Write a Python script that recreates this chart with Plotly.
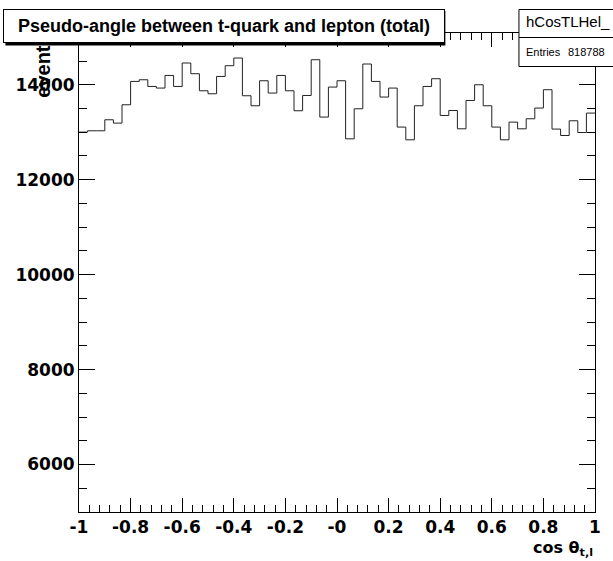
import numpy as np
import plotly.graph_objects as go

# ---- data ----
x_min, x_max = -1.0, 1.0
counts = [13002, 13030, 13030, 13262, 13192, 13578, 14070, 14105, 13964, 13930,
          14196, 13964, 14458, 14232, 13873, 13810, 14175, 14401, 14563, 13768,
          13557, 14084, 13825, 14196, 13873, 13452, 13774, 14527, 13319, 13951,
          14084, 12861, 13494, 14437, 14070, 13741, 13930, 13108, 12840, 13557,
          13964, 14127, 13353, 13458, 13072, 13669, 14000, 13557, 13108, 12840,
          13213, 13072, 13283, 13509, 13895, 13066, 12931, 13241, 12994, 13403]
x_tickvals = [-1, -0.8, -0.6, -0.4, -0.2, 0, 0.2, 0.4, 0.6, 0.8, 1]
x_ticktext = ["-1", "-0.8", "-0.6", "-0.4", "-0.2", "-0", "0.2", "0.4", "0.6", "0.8", "1"]
y_tickvals = [6000, 8000, 10000, 12000, 14000]
y_ticktext = ["6000", "8000", "10000", "12000", "14000"]
y_range = [5000, 15090]
title_text = "Pseudo-angle between t-quark and lepton (total)"
hist_name = "hCosTLHel_"
entries = "818788"

W, H = 613, 561
L, R, T, B = 79, 15, 33, 49
PW, PH = W - L - R, H - T - B


def px(xp):
    return (xp - L) / PW


def py(yp):
    return (H - B - yp) / PH


edges = np.linspace(x_min, x_max, len(counts) + 1)
ys = list(counts) + [counts[-1]]

fig = go.Figure()
fig.add_trace(go.Scatter(x=edges, y=ys, mode="lines", line=dict(color="#222222", width=1, shape="hv"),
                         hoverinfo="skip", showlegend=False))

font_family = "Liberation Sans, Arial, Helvetica, sans-serif"
tick_family = "DejaVu Sans, sans-serif"

fig.update_layout(
    width=W, height=H,
    margin=dict(l=L, r=R, t=T, b=B),
    paper_bgcolor="white", plot_bgcolor="white",
    showlegend=False,
    xaxis=dict(range=[x_min, x_max], tickmode="array", tickvals=x_tickvals, ticktext=x_ticktext,
               ticks="inside", ticklen=14, tickwidth=1, tickcolor="black",
               minor=dict(ticks="inside", ticklen=7, dtick=0.04, tick0=-1, tickcolor="black", tickwidth=1),
               showline=True, linecolor="black", linewidth=1, mirror="allticks",
               showgrid=False, zeroline=False,
               tickfont=dict(family=tick_family, size=17, color="black", weight="bold")),
    yaxis=dict(range=y_range, tickmode="array", tickvals=y_tickvals, ticktext=y_ticktext,
               ticks="inside", ticklen=16, tickwidth=1, tickcolor="black",
               minor=dict(ticks="inside", ticklen=8, dtick=500, tick0=5000, tickcolor="black", tickwidth=1),
               showline=True, linecolor="black", linewidth=1, mirror="allticks",
               showgrid=False, zeroline=False,
               tickfont=dict(family=tick_family, size=17, color="black", weight="bold")),
)

shapes = [
    # title shadow
    dict(type="rect", xref="paper", yref="paper", x0=px(5), x1=px(447.5), y0=py(11), y1=py(45.5),
         fillcolor="black", line=dict(width=0), layer="above"),
    # stats box
    dict(type="rect", xref="paper", yref="paper", x0=px(521.5), x1=px(640), y0=py(9.5), y1=py(66.5),
         fillcolor="white", line=dict(color="black", width=1), layer="above"),
    dict(type="line", xref="paper", yref="paper", x0=px(521.5), x1=px(640), y0=py(37.5), y1=py(37.5),
         line=dict(color="black", width=1), layer="above"),
]
fig.update_layout(shapes=shapes)

annotations = [
    # y-axis title (partly hidden below the title box)
    dict(text="<b>events</b>", xref="paper", yref="paper", x=px(42), y=py(33), xanchor="center", yanchor="top",
         textangle=-90, showarrow=False, font=dict(family=font_family, size=20, color="black")),
    # x-axis title
    dict(text="<b>cos θ<sub>t,l</sub></b>", xref="paper", yref="paper", x=px(598), y=py(548), xanchor="right",
         yanchor="middle", showarrow=False, font=dict(family=tick_family, size=16, color="black")),
    # title box
    dict(text="<b>" + title_text + "</b>", xref="paper", yref="paper", x=px(3), y=py(9), xanchor="left",
         yanchor="top", showarrow=False, width=440, height=32, align="center", valign="middle",
         bgcolor="white", bordercolor="black", borderwidth=1, borderpad=0,
         font=dict(family=font_family, size=18, color="black")),
    # stats
    dict(text=hist_name, xref="paper", yref="paper", x=px(526.5), y=py(22), xanchor="left", yanchor="middle",
         showarrow=False, font=dict(family=font_family, size=15, color="black")),
    dict(text="Entries", xref="paper", yref="paper", x=px(526.5), y=py(51.5), xanchor="left", yanchor="middle",
         showarrow=False, font=dict(family=font_family, size=11, color="black")),
    dict(text=entries, xref="paper", yref="paper", x=px(610), y=py(51.5), xanchor="right", yanchor="middle",
         showarrow=False, font=dict(family=font_family, size=11, color="black")),
]
fig.update_layout(annotations=annotations)

fig.write_html("out.html")
